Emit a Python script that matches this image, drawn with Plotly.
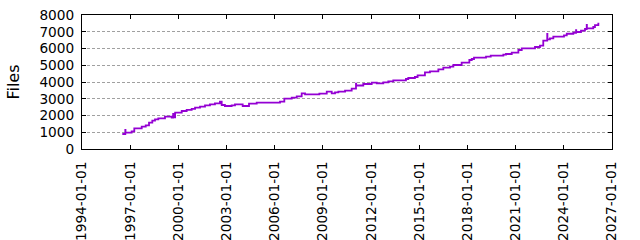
import plotly.graph_objects as go

# Data (step-like cumulative file count)
dates = [
    "1996-07-05", "1996-09-12", "1996-09-16", "1997-02-03", "1997-04-04",
    "1997-09-20", "1997-12-20", "1998-03-05", "1998-05-19", "1998-07-19",
    "1998-10-02", "1999-03-03", "1999-08-03", "1999-09-05", "1999-09-09",
    "1999-10-20", "2000-03-18", "2000-07-08", "2000-10-30", "2001-01-15",
    "2001-05-08", "2001-08-29", "2001-12-20", "2002-04-12", "2002-08-04",
    "2002-09-13", "2002-11-25", "2003-04-27", "2003-07-12", "2004-01-03",
    "2004-05-26", "2004-11-17", "2006-05-01", "2006-08-07", "2007-01-23",
    "2007-05-16", "2007-09-06", "2007-11-21", "2008-10-12", "2009-03-29",
    "2009-07-20", "2009-10-03", "2009-12-18", "2010-05-19", "2010-10-17",
    "2011-01-23", "2011-01-27", "2011-07-08", "2012-01-15", "2012-05-09",
    "2012-10-05", "2013-01-27", "2013-05-20", "2014-03-04", "2014-04-26",
    "2014-09-24", "2014-11-24", "2015-05-10", "2015-09-01", "2016-03-10",
    "2016-07-01", "2016-11-30", "2017-02-14", "2017-08-22", "2018-02-13",
    "2018-04-08", "2018-05-30", "2019-02-27", "2019-06-14", "2020-03-27",
    "2020-05-26", "2020-10-04", "2021-03-04", "2021-05-19", "2022-03-17",
    "2022-07-08", "2022-09-21", "2022-12-20", "2022-12-24", "2023-02-20",
    "2023-05-08", "2024-01-05", "2024-03-08", "2024-08-04", "2024-10-05",
    "2024-10-09", "2025-01-26", "2025-04-27", "2025-06-05", "2025-06-09",
    "2025-11-01", "2025-12-10", "2026-02-24", "2026-03-18",
]
files = [
    895, 1134, 975, 1055, 1234,
    1333, 1413, 1572, 1691, 1771,
    1830, 1930, 1870, 2100, 1890,
    2170, 2270, 2330, 2390, 2467,
    2526, 2607, 2666, 2726, 2826,
    2627, 2567, 2607, 2666, 2567,
    2706, 2766, 2826, 3005, 3065,
    3145, 3324, 3264, 3303, 3423,
    3324, 3383, 3423, 3483, 3602,
    3900, 3790, 3881, 3960, 3920,
    3980, 4040, 4100, 4180, 4240,
    4299, 4398, 4578, 4637, 4756,
    4856, 4915, 5015, 5154, 5313,
    5373, 5453, 5512, 5572, 5632,
    5672, 5751, 5910, 6010, 6090,
    6170, 6468, 6866, 6547, 6607,
    6706, 6786, 6880, 6940, 7100,
    6985, 7065, 7164, 7403, 7204,
    7284, 7390, 7483, 7483,
]

tick_years = list(range(1994, 2028, 3))
tick_vals = [f"{y}-01-01" for y in tick_years]
tick_text = [f"{y}-01-01" for y in tick_years]
y_ticks = list(range(0, 8001, 1000))

font_family = "DejaVu Sans, sans-serif"
fsize = 13.7

fig = go.Figure()
fig.add_trace(go.Scatter(
    x=dates, y=files, mode="lines", line_shape="hv",
    line=dict(color="#9400D3", width=1.8), showlegend=False,
))

fig.update_layout(
    width=640, height=240,
    margin=dict(l=82, r=28, t=15, b=91, autoexpand=False),
    paper_bgcolor="white", plot_bgcolor="white",
    font=dict(family=font_family, size=fsize, color="black"),
    xaxis=dict(
        range=["1994-01-01", "2027-01-01"], type="date",
        tickmode="array", tickvals=tick_vals, ticktext=tick_text,
        tickangle=-90, ticks="inside", ticklen=4, tickcolor="black",
        showline=True, linecolor="black", linewidth=1, mirror="ticks",
        showgrid=False, zeroline=False, automargin=False,
        tickfont=dict(size=fsize), ticklabelstandoff=6,
    ),
    yaxis=dict(
        range=[0, 8000], tickmode="array", tickvals=y_ticks,
        ticks="inside", ticklen=4, tickcolor="black",
        showline=True, linecolor="black", linewidth=1, mirror="ticks",
        showgrid=True, gridcolor="#a0a0a0", griddash="3px,2px", gridwidth=1,
        zeroline=False, automargin=False, tickfont=dict(size=fsize),
        ticklabelstandoff=4,
    ),
    annotations=[dict(
        text="Files", xref="paper", yref="paper", x=-0.131, y=0.5,
        xanchor="center", yanchor="middle", textangle=-90, showarrow=False,
        font=dict(size=16),
    )],
)

fig.write_html("out.html")
